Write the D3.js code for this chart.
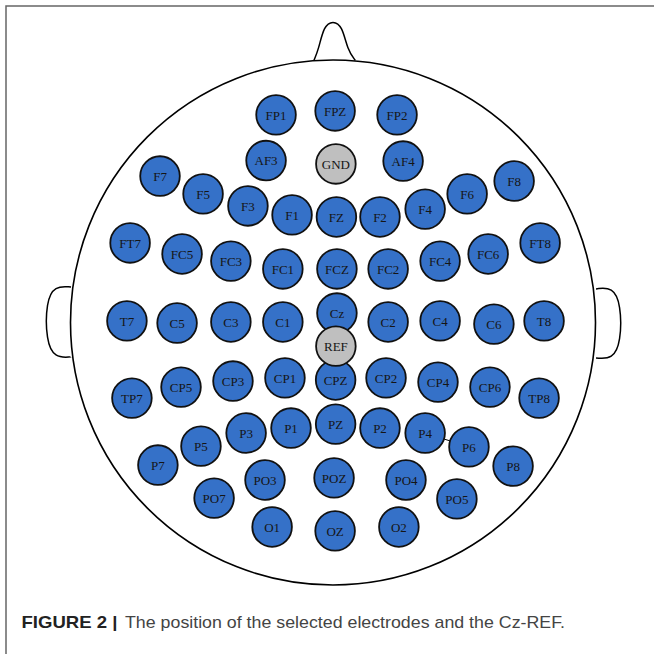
<!DOCTYPE html>
<html>
<head>
<meta charset="utf-8">
<script src="https://cdn.jsdelivr.net/npm/d3@7"></script>
<style>
  body { margin: 0; background: #fff; }
  svg { display: block; }
</style>
</head>
<body>
<svg id="carte"></svg>
<script>
/*
Montage 10-20 : position des électrodes retenues, Cz-REF
coordonnées en unités de tête (rayon = 100, avant = haut)
*/

var W = 654, H = 654;

// électrodes actives
const names = ["FP1","FPZ","FP2","AF3","AF4",
  "F7","F5","F3","F1","FZ","F2","F4","F6","F8",
  "FT7","FC5","FC3","FC1","FCZ","FC2","FC4","FC6","FT8",
  "T7","C5","C3","C1","Cz","C2","C4","C6","T8",
  "TP7","CP5","CP3","CP1","CPZ","CP2","CP4","CP6","TP8",
  "P7","P5","P3","P1","PZ","P2","P4","P6","P8",
  "PO7","PO3","POZ","PO4","PO5",
  "O1","OZ","O2"];
const posX = [-21.7, 0.8, 24.4, -25.5, 26.7,
  -65.9, -49.5, -32.4, -15.6, 1.3, 17.9, 35.1, 51.1, 69.0,
  -77.3, -57.5, -38.9, -19.1, 1.5, 21.0, 40.8, 59.1, 78.9,
  -78.5, -59.4, -38.9, -19.1, 1.5, 21.0, 40.8, 61.3, 80.4,
  -76.6, -57.9, -38.1, -18.3, 1.0, 20.2, 40.0, 59.8, 78.5,
  -66.7, -50.3, -33.1, -16.0, 1.0, 17.9, 35.1, 51.8, 68.6,
  -45.3, -25.9, 0.4, 27.8, 47.2,
  -23.2, 0.8, 25.1];
const posY = [79.1, 80.6, 79.1, 61.7, 61.5,
  55.8, 49.0, 44.4, 41.0, 40.2, 40.2, 43.2, 49.0, 53.9,
  30.3, 26.1, 23.4, 20.4, 20.4, 20.4, 23.4, 26.1, 30.3,
  0.6, -0.2, 0.2, 0.2, 3.6, 0.2, 0.6, -0.6, 0.6,
  -28.8, -24.6, -22.3, -21.1, -21.9, -21.1, -22.7, -24.6, -28.8,
  -54.3, -47.1, -42.1, -40.2, -38.7, -40.2, -42.1, -47.4, -54.7,
  -66.9, -60.0, -59.2, -60.0, -67.2,
  -77.9, -79.4, -77.9];

// masse et référence
const refNames = ["GND", "REF"];
const refX = [1.1, 1.1];
const refY = [60.4, -9.0];

const caption = ["FIGURE 2 |", "The position of the selected electrodes and the Cz-REF."];

const blue = "#3571c8", grey = "#bfbfbf";

const svg = d3.select("#carte").attr("width", W).attr("height", H);

// cadre (haut + gauche)
svg.append("path")
  .attr("d", "M6,654 L6,6 L654,6")
  .attr("fill", "none")
  .attr("stroke", "#666")
  .attr("stroke-width", 1.5);

const x = d3.scaleLinear().domain([-100, 100]).range([70.5, 595.5]);
const y = d3.scaleLinear().domain([-100, 100]).range([585, 60]);
const rad = x(100) - x(0);

const g = svg.append("g");

// tête, nez, oreilles
const curve = d3.line().x(d => x(d[0])).y(d => y(d[1])).curve(d3.curveBasis);

g.append("path")
  .attr("d", curve([[-7.3, 99.8], [-5.5, 104], [-3.5, 113], [0, 115], [3.5, 113], [5.5, 104], [8.5, 99.8]]))
  .attr("fill", "#fff").attr("stroke", "#000").attr("stroke-width", 1.5);
g.append("path")
  .attr("d", curve([[-99.8, 13.5], [-99.8, 13.5], [-106, 14], [-109.3, 8], [-109.3, -7], [-106, -13.5], [-99.8, -13.1], [-99.8, -13.1]]))
  .attr("fill", "#fff").attr("stroke", "#000").attr("stroke-width", 1.5);
g.append("path")
  .attr("d", curve([[100.2, 12.8], [100.2, 12.8], [106.5, 13.5], [109.7, 7], [109.7, -7.5], [106.5, -14], [100.2, -13.5], [100.2, -13.5]]))
  .attr("fill", "#fff").attr("stroke", "#000").attr("stroke-width", 1.5);

g.append("circle")
  .attr("cx", x(0)).attr("cy", y(0)).attr("r", rad)
  .attr("fill", "#fff").attr("stroke", "#000").attr("stroke-width", 1.6);

// petit trait P4-P6
const iP4 = names.indexOf("P4"), iP6 = names.indexOf("P6");
g.append("line")
  .attr("x1", x(posX[iP4])).attr("y1", y(posY[iP4]))
  .attr("x2", x(posX[iP6])).attr("y2", y(posY[iP6]))
  .attr("stroke", "#000").attr("stroke-width", 1);

const elec = names.map((n, i) => ({name: n, u: posX[i], v: posY[i], fill: blue}))
  .concat(refNames.map((n, i) => ({name: n, u: refX[i], v: refY[i], fill: grey})));

const nodes = g.selectAll("g.elec")
  .data(elec)
  .enter().append("g")
  .attr("class", "elec")
  .attr("transform", d => `translate(${x(d.u)},${y(d.v)})`);

nodes.append("circle")
  .attr("r", 19.8)
  .attr("fill", d => d.fill)
  .attr("stroke", "#111")
  .attr("stroke-width", 1.8);

nodes.append("text")
  .attr("text-anchor", "middle")
  .attr("dy", "0.36em")
  .attr("font-family", "'Liberation Serif', 'Times New Roman', serif")
  .attr("font-size", 13)
  .attr("fill", "#151515")
  .text(d => d.name);

// légende
svg.append("text")
  .attr("x", 21.5).attr("y", 628)
  .attr("font-family", "'Liberation Sans', Arial, sans-serif")
  .attr("font-size", 17).attr("font-weight", "bold")
  .attr("fill", "#222")
  .attr("textLength", 96).attr("lengthAdjust", "spacingAndGlyphs")
  .text(caption[0]);
svg.append("text")
  .attr("x", 125).attr("y", 628)
  .attr("font-family", "'Liberation Sans', Arial, sans-serif")
  .attr("font-size", 17)
  .attr("fill", "#444")
  .attr("textLength", 440).attr("lengthAdjust", "spacingAndGlyphs")
  .text(caption[1]);
</script>
</body>
</html>
